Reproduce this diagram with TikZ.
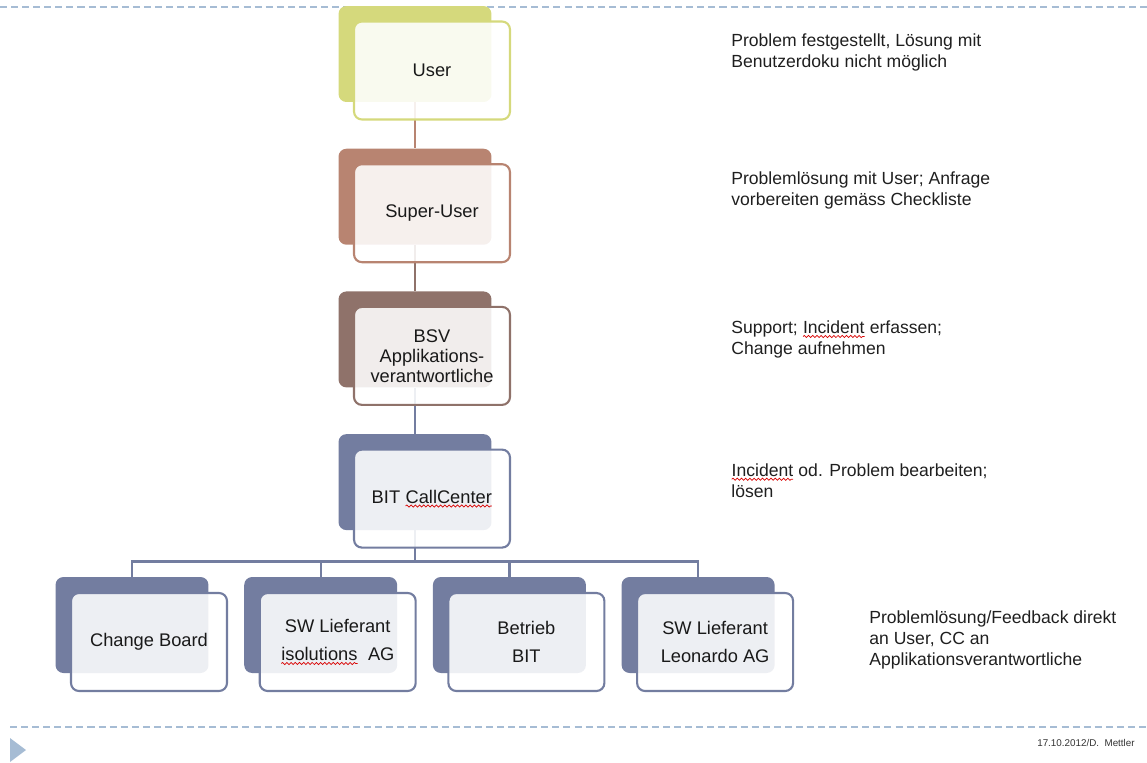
\documentclass[tikz,border=0pt]{standalone}
\usepackage{fontspec}
\setmainfont{Liberation Sans}
\usetikzlibrary{decorations.pathmorphing}

\definecolor{userC}{RGB}{213,217,124}
\definecolor{superC}{RGB}{184,132,113}
\definecolor{bsvC}{RGB}{143,114,106}
\definecolor{bitC}{RGB}{115,125,160}
\definecolor{rulerC}{RGB}{166,188,212}

\tikzset{squiggle/.style={draw=red!85!black,line width=0.4pt,sharp corners,decorate,decoration={snake,amplitude=0.6pt,segment length=2.4pt}}}
\newcommand{\squig}[1]{\tikz[baseline=(w.base),sharp corners,line width=0.4pt]{\node[inner sep=0pt,outer sep=0pt,minimum width=0pt,minimum height=0pt,draw=none,fill=none,anchor=base] (w) {#1};\draw[squiggle] ([yshift=-1.7pt]w.base west) -- ([yshift=-1.7pt]w.base east);}}

\begin{document}
\begin{tikzpicture}[x=0.02cm,y=-0.02cm,
  boxback/.style={rectangle,rounded corners=4.5pt,inner sep=0pt,minimum width=3.06cm,minimum height=1.92cm},
  boxfront/.style={rectangle,rounded corners=4.5pt,line width=1.2pt,fill=white,fill opacity=0.88,text opacity=1,minimum width=3.12cm,minimum height=1.96cm,align=center,text=black!90,font=\fontsize{10.4}{11.4}\selectfont},
  tie/.style={line width=1.3pt},
  remark/.style={anchor=west,inner sep=0pt,align=left,text=black!88,font=\fontsize{10}{12}\selectfont},
  ruler/.style={draw=rulerC,line width=0.6pt,dash pattern=on 4pt off 2.3pt}]

\useasboundingbox (0,0) rectangle (1147,762);

\coordinate (rtl) at (0,7);
\coordinate (rtr) at (1147,7);
\coordinate (rbl) at (10,727);
\coordinate (rbr) at (1147,727);
\draw[ruler] (rtl) -- (rtr);
\draw[ruler] (rbl) -- (rbr);
\fill[rulerC] (10,738) -- (26,750) -- (10,762) -- cycle;
\node[anchor=east,inner sep=0pt,font=\fontsize{5.6}{6}\selectfont,text=black!80] (foot) at (1135,743) {17.10.2012/D.~ Mettler};

\foreach \nm/\col [count=\i from 0] in {user/userC,super/superC,bsv/bsvC,bit/bitC}
  \node[boxback,fill=\col] (\nm B) at (415,54+142.7*\i) {};
\foreach \nm [count=\i from 0] in {change,isol,betrieb,leo}
  \node[boxback,fill=bitC] (\nm B) at (132+188.7*\i,625) {};

\draw[tie,superC] (userB.south) -- (superB.north);
\draw[tie,bsvC] (superB.south) -- (bsvB.north);
\draw[tie,bitC] (bsvB.south) -- (bitB.north);
\foreach \nm in {change,isol,betrieb,leo}
  \draw[tie,bitC] (bitB.south) -- ++(0,31) -| (\nm B.north);

\foreach \nm/\col/\txt in {user/userC/User,super/superC/Super-User,bsv/bsvC/{BSV\\Applikations-\\verantwortliche},bit/bitC/{BIT \squig{CallCenter}}}
  \node[boxfront,draw=\col] (\nm) at ([shift={(17,16.5)}]\nm B.center) {\txt};
\foreach \nm/\txt in {change/Change Board,isol/{SW Lieferant\\\squig{isolutions}~ AG},betrieb/{Betrieb\\BIT},leo/{SW Lieferant\\Leonardo AG}}
  \node[boxfront,draw=bitC,font=\fontsize{10.4}{16}\selectfont] (\nm) at ([shift={(17,17)}]\nm B.center) {\txt};

\node[remark] (r1) at (731,52) {Problem festgestellt, Lösung mit\\Benutzerdoku nicht möglich};
\node[remark] (r2) at (731,190.5) {Problemlösung mit User; Anfrage\\vorbereiten gemäss Checkliste};
\node[remark] (r3) at (731,339.5) {Support; \squig{Incident} erfassen;\\Change aufnehmen};
\node[remark] (r4) at (731,480.5) {\squig{Incident} od. Problem bearbeiten;\\lösen};
\node[remark] (r5) at (869,640) {Problemlösung/Feedback direkt\\an User, CC an\\Applikationsverantwortliche};
\end{tikzpicture}
\end{document}
